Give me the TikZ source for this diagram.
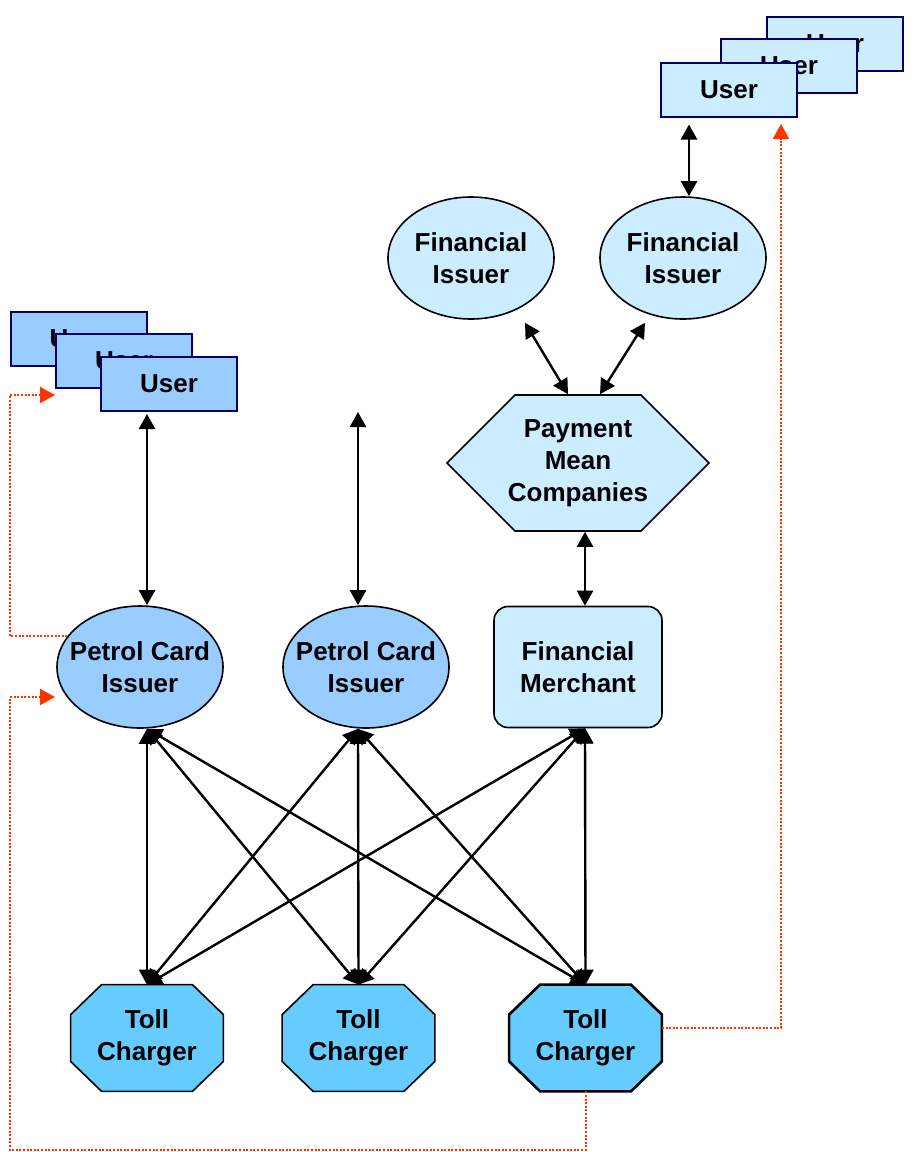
\documentclass[tikz,border=0pt]{standalone}
\usepackage{fontspec}
\setmainfont{Liberation Sans}
\usepackage{tikz}
\usepackage{xcolor}
\usetikzlibrary{shapes.geometric,shapes.symbols,arrows.meta,backgrounds}

\definecolor{palecyan}{HTML}{CCECFF}
\definecolor{midcyan}{HTML}{99CCFF}
\definecolor{tollcyan}{HTML}{66CCFF}
\definecolor{boxnavy}{HTML}{000066}
\definecolor{flowred}{HTML}{FF3300}

\begin{document}
\begin{tikzpicture}[x=0.5pt, y=-0.5pt,
    every node/.style={font=\bfseries\fontsize{13}{16}\selectfont, align=center, inner sep=0pt},
    userbox/.style={draw=boxnavy, line width=1pt, minimum width=68pt, minimum height=27pt},
    issuer/.style={ellipse, draw, line width=0.8pt, minimum width=83pt, minimum height=61pt},
    company/.style={signal, signal to=east and west, signal from=nowhere, signal pointer angle=90,
        draw, line width=0.8pt, fill=palecyan, inner xsep=-3.5pt, minimum height=68pt},
    merchant/.style={rectangle, rounded corners=7pt, draw, line width=0.8pt, fill=palecyan,
        minimum width=84pt, minimum height=60.5pt},
    charger/.style={rectangle, minimum width=76pt, minimum height=53pt},
    octagon/.style={draw, fill=tollcyan},
    link/.style={line width=1.2pt, {Triangle[length=7.5pt,width=8pt]}-{Triangle[length=7.5pt,width=8pt]}},
    flow/.style={flowred, line width=1pt, dash pattern=on 1pt off 0.8pt, -{Triangle[length=7.5pt,width=8pt]}}]
    \useasboundingbox (0, 0) rectangle (914, 1152);

    % users
    \node[userbox, fill=palecyan] (u_r3) at (835, 44) {User};
    \node[userbox, fill=palecyan] (u_r2) at (789, 66) {User};
    \node[userbox, fill=palecyan] (u_r1) at (729, 89.5) {User};
    \node[userbox, fill=midcyan] (u_l3) at (78.5, 338.5) {User};
    \node[userbox, fill=midcyan] (u_l2) at (124, 360.5) {User};
    \node[userbox, fill=midcyan] (u_l1) at (169, 384) {User};

    \node[issuer, fill=palecyan] (fi_l) at (471, 258) {Financial\\Issuer};
    \node[issuer, fill=palecyan] (fi_r) at (683, 258) {Financial\\Issuer};
    \node[company] (pmc) at (578, 463) {Payment\\Mean\\Companies};

    \node[issuer, fill=midcyan, inner xsep=-6.5pt] (pci_l) at (140, 667) {Petrol Card\\Issuer};
    \node[issuer, fill=midcyan, inner xsep=-6.5pt] (pci_m) at (366, 667) {Petrol Card\\Issuer};
    \node[merchant] (fm) at (578, 667) {Financial\\Merchant};

    \node[charger] (tc_l) at (147, 1038) {Toll\\Charger};
    \node[charger] (tc_m) at (358.5, 1038) {Toll\\Charger};
    \node[charger] (tc_r) at (585.5, 1038) {Toll\\Charger};

    % octagon outlines behind the toll chargers
    \begin{pgfonlayer}{background}
        \foreach \n/\w in {tc_l/0.8pt, tc_m/0.8pt, tc_r/1.3pt}
            \draw[octagon, line width=\w]
            ([xshift=15.5pt]\n.north west) -- ([xshift=-15.5pt]\n.north east)
            -- ([yshift=-15pt]\n.north east) -- ([yshift=15pt]\n.south east)
            -- ([xshift=-15.5pt]\n.south east) -- ([xshift=15.5pt]\n.south west)
            -- ([yshift=15pt]\n.south west) -- ([yshift=-15pt]\n.north west) -- cycle;
    \end{pgfonlayer}

    \coordinate (free_top) at (358, 412);
    \coordinate (in_ul) at (55, 395);
    \coordinate (in_pl) at (55, 697);
    \coordinate (in_ur) at (781, 124);

    \draw[link]
    ([xshift=-11pt,yshift=-1pt]u_l1.south) edge ([xshift=3.5pt]pci_l.north)
    (free_top) edge ([xshift=-4pt]pci_m.north)
    ([xshift=-20pt,yshift=-3.5pt]u_r1.south) edge ([xshift=3pt]fi_r.north)
    ([xshift=27pt,yshift=-1.5pt]fi_l.south) edge ([xshift=-5pt]pmc.north)
    ([xshift=-19pt,yshift=-1.5pt]fi_r.south) edge ([xshift=11pt]pmc.north)
    ([xshift=3.5pt]pmc.south) edge ([xshift=3.5pt]fm.north)
    ([xshift=3.5pt]pci_l.south) edge (tc_l.north)
    ([xshift=3.5pt]pci_l.south) edge (tc_m.north)
    ([xshift=3.5pt]pci_l.south) edge (tc_r.north)
    ([xshift=-4pt]pci_m.south) edge (tc_l.north)
    ([xshift=-4pt]pci_m.south) edge (tc_m.north)
    ([xshift=-4pt]pci_m.south) edge (tc_r.north)
    ([xshift=3.5pt]fm.south) edge (tc_l.north)
    ([xshift=3.5pt]fm.south) edge (tc_m.north)
    ([xshift=3.5pt]fm.south) edge (tc_r.north);

    % dotted feedback
    \draw[flow] (pci_l.157) -| (10, 395) -- (in_ul);
    \draw[flow] (tc_r.south) |- (10, 1150) -- (10, 697) -- (in_pl);
    \draw[flow] ([yshift=5pt]tc_r.east) -| (in_ur);
\end{tikzpicture}
\end{document}
